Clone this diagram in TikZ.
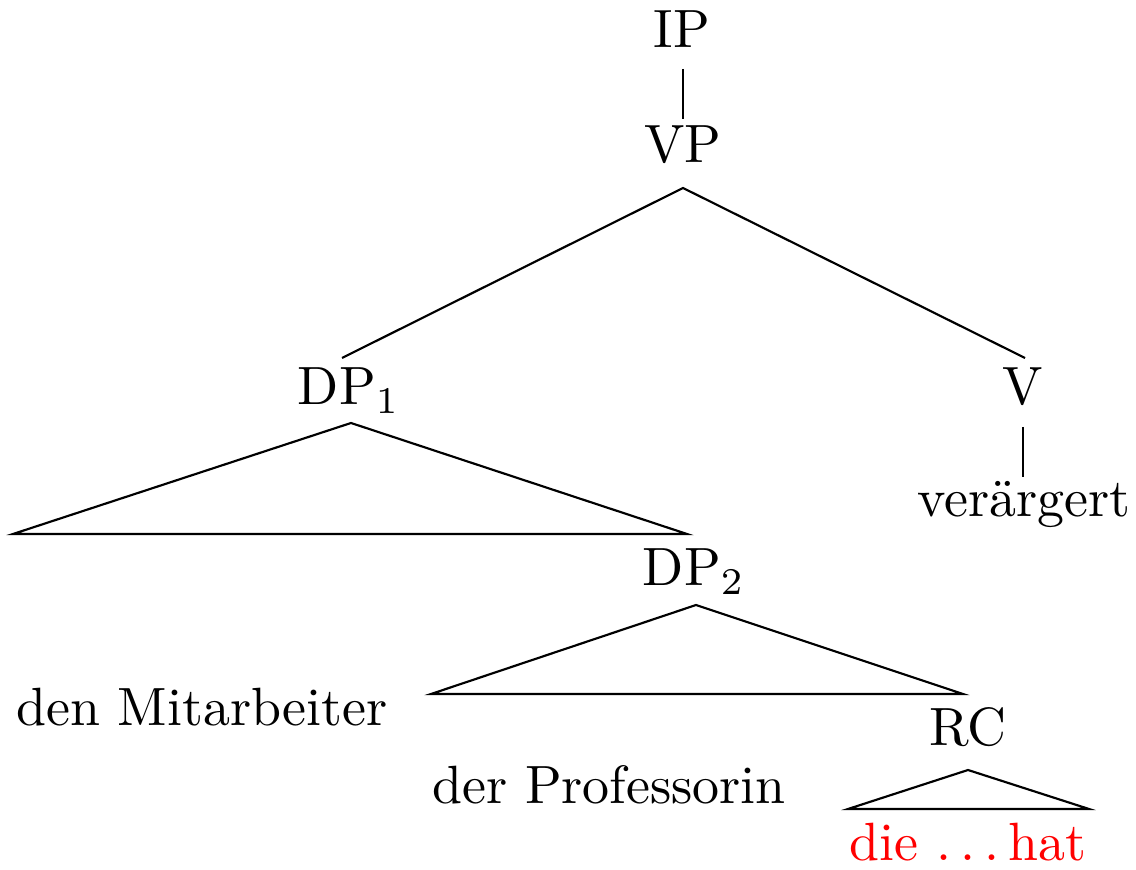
\documentclass[tikz,border=0pt]{standalone}
\usetikzlibrary{calc}
\begin{document}
\begin{tikzpicture}[x=0.1855pt,y=-0.1855pt,
  lbl/.style={anchor=base,inner sep=0pt},
  edge/.style={line width=0.4pt}]
\useasboundingbox (0,0) rectangle (1136,870);
\node[lbl] (IP) at (682,48) {IP};
\node[lbl] (VP) at (683,163) {VP};
\node[lbl] (DP1) at (349,405) {DP$_1$};
\node[lbl] (V) at (1023,405) {V};
\node[lbl] (verg) at (1024,517) {verärgert};
\node[lbl] (DP2) at (694,586) {DP$_2$};
\node[lbl] (Mit) at (202,725) {den Mitarbeiter};
\node[lbl] (RC) at (968,745) {RC};
\node[lbl] (Prof) at (609,803) {der Professorin};
\node[lbl,red] (die) at (968,860) {die .\kern1.67pt.\kern1.67pt.\kern1.67pt hat};
% edges
\draw[edge] ($(IP.base)+(1,21)$) -- ($(VP.base)+(0,-44)$);
\draw[edge] ($(DP1.base)+(-7,-47)$) -- ($(VP.base)+(0,25)$) -- ($(V.base)+(2,-47)$);
\draw[edge] ($(V.base)+(0,22)$) -- ($(verg.base)+(-1,-40)$);
% roofs
\draw[edge] ($(DP1.base)+(2,18)$) -- ($(DP1.base)+(-336,129)$) -- ($(DP1.base)+(338,129)$) -- cycle;
\draw[edge] ($(DP2.base)+(2,19)$) -- ($(DP2.base)+(-263,108)$) -- ($(DP2.base)+(269,108)$) -- cycle;
\draw[edge] ($(RC.base)+(0,25)$) -- ($(RC.base)+(-120,64)$) -- ($(RC.base)+(121,64)$) -- cycle;
\end{tikzpicture}
\end{document}
